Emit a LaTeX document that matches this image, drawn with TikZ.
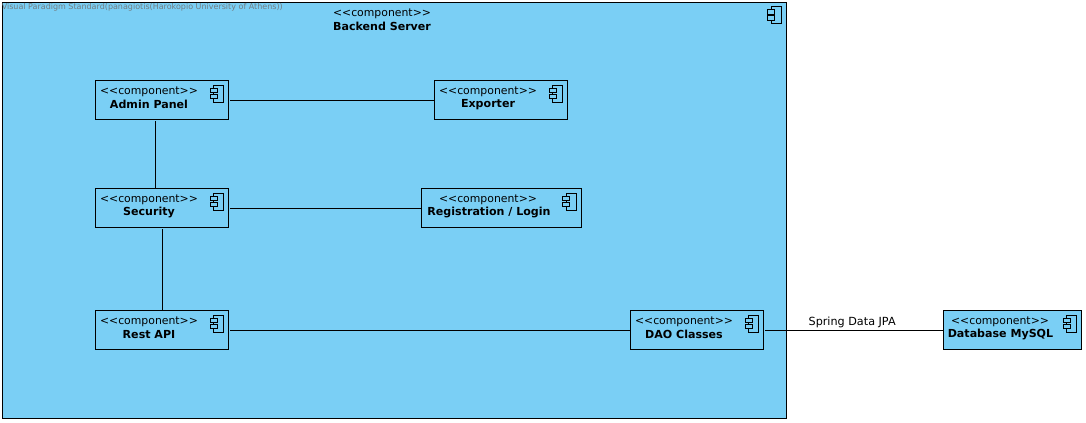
\documentclass[tikz,border=0pt]{standalone}
\usepackage{fontspec}
\setmainfont{DejaVu Sans}
\usetikzlibrary{calc}
\definecolor{compblue}{RGB}{122,207,245}
\definecolor{wm}{RGB}{115,125,130}
\newcommand{\compicon}[1]{%
  \draw[iconline] ($(#1.north east)+(-15,4.3)$) rectangle ($(#1.north east)+(-5,21.3)$);
  \draw[iconline,fill=compblue] ($(#1.north east)+(-18.5,7.3)$) rectangle ($(#1.north east)+(-11.5,12)$);
  \draw[iconline,fill=compblue] ($(#1.north east)+(-18.5,13.5)$) rectangle ($(#1.north east)+(-11.5,18.2)$);
}
\newcommand{\st}{{<}{<}component{>}{>}}
\tikzset{
  x=0.75pt,y=-0.75pt,
  compbox/.style={draw=black,fill=compblue,line width=0.75pt,inner sep=0pt,outer sep=0pt},
  stereo/.style={font=\fontsize{8.15}{10}\selectfont,inner sep=0pt,text=black},
  cname/.style={font=\fontsize{8.3}{10}\selectfont\bfseries,inner sep=0pt,text=black},
  linklabel/.style={font=\fontsize{8.4}{10}\selectfont,inner sep=0pt,text=black},
  link/.style={draw=black,line width=0.75pt},
  iconline/.style={draw=black,line width=0.75pt},
  std/.style={compbox,minimum width=133*0.75pt,minimum height=39*0.75pt},
}
\begin{document}
\begin{tikzpicture}
\useasboundingbox (0,0) rectangle (1086,423);
\node[compbox,minimum width=784*0.75pt,minimum height=416*0.75pt] (server) at (394.3,210.3) {};
\node[stereo] (serverS) at (382,13.7) {\st};
\node[cname] (serverN) at (382,26.3) {Backend Server};
\compicon{server}
\node[font=\fontsize{6}{8}\selectfont,text=wm,inner sep=0pt,anchor=west] (wmark) at (1.5,7.7) {Visual Paradigm Standard(panagiotis(Harokopio University of Athens))};

\node[std] (admin) at (162,100.3) {};
\node[stereo] (adminS) at (149,91.8) {\st};
\node[cname] (adminN) at (149,104.3) {Admin Panel};
\compicon{admin}

\node[std] (exporter) at (501,100.3) {};
\node[stereo] (exporterS) at (488,91.8) {\st};
\node[cname] (exporterN) at (488,104.3) {Exporter};
\compicon{exporter}

\node[std] (security) at (162,208.3) {};
\node[stereo] (securityS) at (149,199.8) {\st};
\node[cname] (securityN) at (149,212.3) {Security};
\compicon{security}

\node[compbox,minimum width=160*0.75pt,minimum height=39*0.75pt] (reg) at (501,208.3) {};
\node[stereo] (regS) at (488,199.8) {\st};
\node[cname] (regN) at (489,212.3) {Registration / Login};
\compicon{reg}

\node[std] (rest) at (162,330.3) {};
\node[stereo] (restS) at (149,321.8) {\st};
\node[cname] (restN) at (149,334.3) {Rest API};
\compicon{rest}

\node[std] (dao) at (697,330.3) {};
\node[stereo] (daoS) at (684,321.8) {\st};
\node[cname] (daoN) at (684,334.3) {DAO Classes};
\compicon{dao}

\node[compbox,minimum width=138*0.75pt,minimum height=39*0.75pt] (db) at (1012.5,330.3) {};
\node[stereo] (dbS) at (1000,321.8) {\st};
\node[cname] (dbN) at (1000.5,334.3) {Database MySQL};
\compicon{db}

\coordinate (vA) at (155,0);
\coordinate (vB) at (162.5,0);
\draw[link,shorten <=1.2pt] (admin) -- (exporter);
\draw[link,shorten <=1.2pt] (security) -- (reg);
\draw[link,shorten <=1.2pt] (rest) -- (dao);
\draw[link,shorten <=1.2pt] (dao) -- node[linklabel,above=1.5pt,xshift=-1pt,pos=0.5] (jpa) {Spring Data JPA} (db);
\draw[link,shorten <=1.2pt] (admin.south -| vA) -- (security.north -| vA);
\draw[link,shorten <=1.2pt] (security.south -| vB) -- (rest.north -| vB);
\end{tikzpicture}
\end{document}
